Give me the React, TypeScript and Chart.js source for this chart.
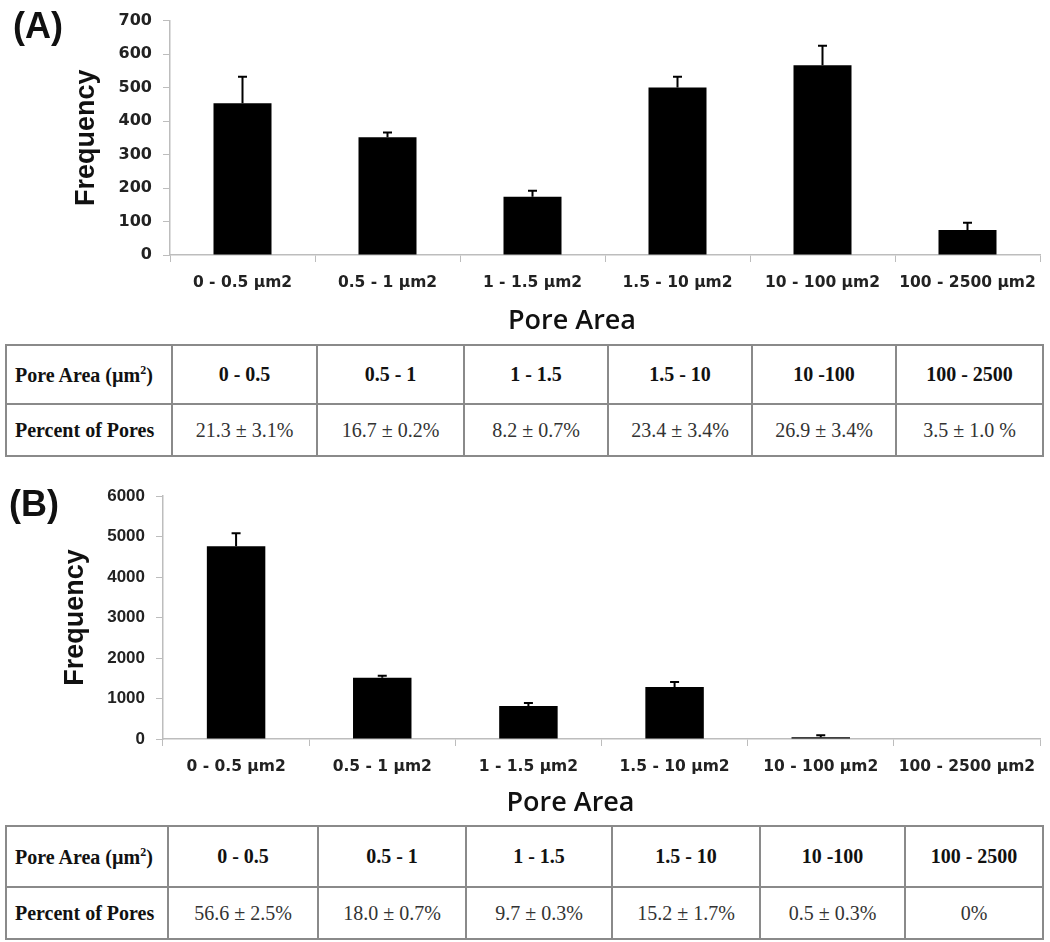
import React, { useEffect, useRef } from 'react';
import { Chart, registerables } from 'chart.js';

Chart.register(...registerables);

// ---- data ----
const categories = ['0 - 0.5 µm2', '0.5 - 1 µm2', '1 - 1.5 µm2', '1.5 - 10 µm2', '10 - 100 µm2', '100 - 2500 µm2'];
const frequencyA = [453, 352, 174, 500, 567, 75];
const errorA = [79, 14, 18, 32, 58, 21];
const frequencyB = [4760, 1510, 815, 1285, 45, 0];
const errorB = [320, 50, 74, 123, 45, 0];
const ticksA = { min: 0, max: 700, step: 100 };
const ticksB = { min: 0, max: 6000, step: 1000 };
const tableHeaders = ['0 - 0.5', '0.5 - 1', '1 - 1.5', '1.5 - 10', '10 -100', '100 - 2500'];
const percentA = ['21.3 ± 3.1%', '16.7 ± 0.2%', '8.2 ± 0.7%', '23.4 ± 3.4%', '26.9 ± 3.4%', '3.5 ± 1.0 %'];
const percentB = ['56.6 ± 2.5%', '18.0 ± 0.7%', '9.7 ± 0.3%', '15.2 ± 1.7%', '0.5 ± 0.3%', '0%'];

function errorBarPlugin(errors: number[]) {
  return {
    id: 'errorBars',
    afterDatasetsDraw(chart: any) {
      const ctx = chart.ctx;
      const meta = chart.getDatasetMeta(0);
      const y = chart.scales.y;
      const data = chart.data.datasets[0].data as number[];
      ctx.save();
      ctx.strokeStyle = '#000';
      ctx.lineWidth = 2;
      meta.data.forEach((bar: any, i: number) => {
        const e = errors[i];
        if (!e) return;
        const base = y.getPixelForValue(data[i]);
        const top = y.getPixelForValue(data[i] + e);
        ctx.beginPath();
        ctx.moveTo(bar.x, base);
        ctx.lineTo(bar.x, top);
        ctx.moveTo(bar.x - 4.5, top);
        ctx.lineTo(bar.x + 4.5, top);
        ctx.stroke();
      });
      ctx.restore();
    },
  };
}

function xTitlePlugin(text: string, dx: number, dy: number) {
  return {
    id: 'xTitle',
    afterDraw(chart: any) {
      const ctx = chart.ctx;
      const x = chart.scales.x;
      ctx.save();
      ctx.font = '600 27px "Open Sans"';
      ctx.fillStyle = '#111';
      ctx.textAlign = 'center';
      ctx.textBaseline = 'middle';
      ctx.fillText(text, (x.left + x.right) / 2 + dx, x.top + dy);
      ctx.restore();
    },
  };
}

type PanelProps = {
  values: number[];
  errors: number[];
  ticks: { min: number; max: number; step: number };
  top: number;
  height: number;
  padTop: number;
  axisWidth: number;
  xAxisHeight: number;
  tickFont: any;
  titleX: number;
  pTitleDx: number;
  pTitleDy: number;
};

function BarPanel(p: PanelProps) {
  const ref = useRef<HTMLCanvasElement>(null);
  useEffect(() => {
    const chart = new Chart(ref.current as HTMLCanvasElement, {
      type: 'bar',
      data: {
        labels: categories,
        datasets: [
          {
            data: p.values,
            backgroundColor: '#000',
            borderWidth: 0,
            barPercentage: 0.4,
            categoryPercentage: 1,
          },
        ],
      },
      options: {
        responsive: false,
        animation: false,
        events: [],
        layout: { padding: { top: p.padTop, right: 10, left: 0, bottom: 5 } },
        plugins: { legend: { display: false }, tooltip: { enabled: false } },
        scales: {
          x: {
            offset: true,
            grid: { offset: true, drawOnChartArea: false, drawTicks: true, tickLength: 7, color: '#bdbdbd' },
            border: { color: '#bdbdbd', width: 1.5 },
            ticks: {
              padding: 12,
              maxRotation: 0,
              autoSkip: false,
              color: '#222',
              font: { family: '"DejaVu Sans"', size: 15.5, weight: 'bold' },
            },
            afterFit: (s: any) => {
              s.height = p.xAxisHeight;
            },
          },
          y: {
            min: p.ticks.min,
            max: p.ticks.max,
            grid: { drawOnChartArea: false, drawTicks: true, tickLength: 7, color: '#bdbdbd' },
            border: { color: '#bdbdbd', width: 1.5 },
            ticks: {
              stepSize: p.ticks.step,
              padding: 11,
              color: '#222',
              font: p.tickFont,
              callback: (v: any) => String(v),
            },
            title: {
              display: true,
              text: 'Frequency',
              color: '#111',
              font: { family: '"Liberation Sans"', size: 27, weight: 'bold' },
              padding: { top: p.titleX, bottom: 0 },
            },
            afterFit: (s: any) => {
              s.width = p.axisWidth;
            },
          },
        },
      },
      plugins: [errorBarPlugin(p.errors), xTitlePlugin('Pore Area', p.pTitleDx, p.pTitleDy)],
    });
    return () => chart.destroy();
  }, []);
  return (
    <canvas
      ref={ref}
      width={1050}
      height={p.height}
      style={{ position: 'absolute', left: 0, top: p.top, width: 1050, height: p.height }}
    />
  );
}

function PoreTable(props: { top: number; widths: number[]; rows: number[]; values: string[] }) {
  const cell: React.CSSProperties = {
    border: '2px solid #8a8a8a',
    textAlign: 'center',
    padding: 0,
    fontFamily: '"Liberation Serif", serif',
    fontSize: 20,
    color: '#111',
  };
  const first: React.CSSProperties = { ...cell, textAlign: 'left', paddingLeft: 8, fontWeight: 'bold' };
  return (
    <table
      style={{
        position: 'absolute',
        left: 5,
        top: props.top,
        width: props.widths.reduce((a, b) => a + b, 0),
        borderCollapse: 'collapse',
        tableLayout: 'fixed',
        background: '#fff',
      }}
    >
      <colgroup>
        {props.widths.map((w, i) => (
          <col key={i} style={{ width: w }} />
        ))}
      </colgroup>
      <tbody>
        <tr style={{ height: props.rows[0] }}>
          <td style={first}>
            Pore Area (µm<sup style={{ fontSize: 12 }}>2</sup>)
          </td>
          {tableHeaders.map((h, i) => (
            <td key={i} style={{ ...cell, fontWeight: 'bold' }}>
              {h}
            </td>
          ))}
        </tr>
        <tr style={{ height: props.rows[1] }}>
          <td style={first}>Percent of Pores</td>
          {props.values.map((v, i) => (
            <td key={i} style={{ ...cell, color: '#333' }}>
              {v}
            </td>
          ))}
        </tr>
      </tbody>
    </table>
  );
}

export default function App() {
  const label: React.CSSProperties = {
    position: 'absolute',
    fontFamily: '"Liberation Sans", Arial, sans-serif',
    fontWeight: 'bold',
    fontSize: 36,
    color: '#111',
    lineHeight: 1,
  };
  return (
    <div style={{ position: 'absolute', left: 0, top: 0, width: 1050, height: 942, background: '#fff', overflow: 'hidden' }}>
      <BarPanel
        values={frequencyA}
        errors={errorA}
        ticks={ticksA}
        top={0}
        height={340}
        padTop={14}
        axisWidth={170}
        xAxisHeight={80}
        tickFont={{ family: '"DejaVu Sans"', size: 16, weight: 'bold' }}
        titleX={70}
        pTitleDx={-33}
        pTitleDy={66}
      />
      <div style={{ ...label, left: 13, top: 8 }}>(A)</div>
      <PoreTable top={344} widths={[166, 145, 147, 144, 144, 144, 147]} rows={[59, 52]} values={percentA} />
      <BarPanel
        values={frequencyB}
        errors={errorB}
        ticks={ticksB}
        top={470}
        height={350}
        padTop={26}
        axisWidth={163}
        xAxisHeight={76}
        tickFont={{ family: '"Liberation Sans"', size: 17, weight: 'bold' }}
        titleX={59}
        pTitleDx={-31}
        pTitleDy={64}
      />
      <div style={{ ...label, left: 9, top: 486 }}>(B)</div>
      <PoreTable top={825} widths={[162, 150, 148, 146, 148, 145, 138]} rows={[61, 52]} values={percentB} />
    </div>
  );
}
